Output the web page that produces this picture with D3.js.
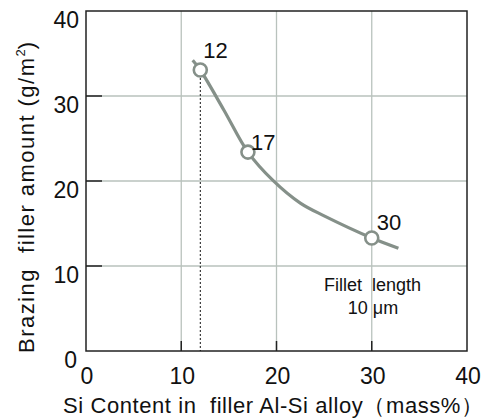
<!DOCTYPE html>
<html><head><meta charset="utf-8">
<script src="https://cdn.jsdelivr.net/npm/d3@7"></script>
<style>body{margin:0;background:#fff}svg{display:block}text{font-family:"Liberation Sans",Arial,sans-serif;fill:#111;white-space:pre}</style>
</head><body>
<svg id="c" width="490" height="420"></svg>
<script>
const xTicks = [0, 10, 20, 30, 40];
const yTicks = [0, 10, 20, 30, 40];
const curveSi = [11.2, 12, 14.5, 17, 19.6, 22.5, 25, 30, 32.8];
const curveAmount = [34.2, 33.06, 28.3, 23.4, 20.1, 17.4, 15.9, 13.3, 12.1];
const pointSi = [12, 17, 30];
const pointAmount = [33.06, 23.4, 13.3];
const pointLabels = ["12", "17", "30"];
const xTitle = "Si Content in  filler Al-Si alloy（mass%）";
const yTitleMain = "Brazing  filler amount (g/m";
const yTitleSup = "2";
const yTitleEnd = ")";
const noteLines = ["Fillet  length", "10 μm"];

const svg = d3.select("#c");
const L = 86, R = 467, T = 11, B = 351;
const x = d3.scaleLinear().domain([0, 40]).range([L, R]);
const y = d3.scaleLinear().domain([0, 40]).range([B, T]);
const inner = xTicks.filter(d => d > 0 && d < 40);
const innerY = yTicks.filter(d => d > 0 && d < 40);

// grid
svg.append("g").selectAll("line").data(inner).enter().append("line")
  .attr("x1", d => x(d)).attr("x2", d => x(d)).attr("y1", T).attr("y2", B)
  .attr("stroke", "#b9c2bd").attr("stroke-width", 1.3);
svg.append("g").selectAll("line").data(innerY).enter().append("line")
  .attr("y1", d => y(d)).attr("y2", d => y(d)).attr("x1", L).attr("x2", R)
  .attr("stroke", "#b9c2bd").attr("stroke-width", 1.3);

// inner ticks
svg.append("g").selectAll("line").data(inner).enter().append("line")
  .attr("x1", d => x(d)).attr("x2", d => x(d)).attr("y1", B - 10).attr("y2", B)
  .attr("stroke", "#222").attr("stroke-width", 1.5);
svg.append("g").selectAll("line").data(innerY).enter().append("line")
  .attr("y1", d => y(d)).attr("y2", d => y(d)).attr("x1", L).attr("x2", L + 16)
  .attr("stroke", "#222").attr("stroke-width", 1.5);

// frame
svg.append("rect").attr("x", L).attr("y", T).attr("width", R - L).attr("height", B - T)
  .attr("fill", "none").attr("stroke", "#222").attr("stroke-width", 1.5);

// tick labels
svg.append("g").selectAll("text").data(xTicks).enter().append("text")
  .attr("x", d => x(d) + 1).attr("y", 384).attr("text-anchor", "middle")
  .attr("font-size", 23).text(d => d);
svg.append("g").selectAll("text").data(yTicks).enter().append("text")
  .attr("x", d => d === 0 ? 77 : 79).attr("y", d => y(d) + 17).attr("text-anchor", "end")
  .attr("font-size", 23).text(d => d);

// dotted drop line
svg.append("line").attr("x1", x(pointSi[0])).attr("x2", x(pointSi[0]))
  .attr("y1", y(pointAmount[0])).attr("y2", B)
  .attr("stroke", "#111").attr("stroke-width", 1).attr("stroke-dasharray", "2,2");

// curve
const pts = curveSi.map((s, i) => [s, curveAmount[i]]);
svg.append("path").datum(pts)
  .attr("d", d3.line().x(d => x(d[0])).y(d => y(d[1])).curve(d3.curveCatmullRom.alpha(0.5)))
  .attr("fill", "none").attr("stroke", "#859089").attr("stroke-width", 3.2);

// points
svg.append("g").selectAll("circle").data(pointSi).enter().append("circle")
  .attr("cx", d => x(d)).attr("cy", (d, i) => y(pointAmount[i])).attr("r", 6.5)
  .attr("fill", "#fff").attr("stroke", "#859089").attr("stroke-width", 2.6);
const labOff = [[3, -12], [3, -2], [5, -8]];
svg.append("g").selectAll("text").data(pointSi).enter().append("text")
  .attr("x", (d, i) => x(d) + labOff[i][0]).attr("y", (d, i) => y(pointAmount[i]) + labOff[i][1])
  .attr("font-size", 22).text((d, i) => pointLabels[i]);

// note
svg.append("text").attr("x", 372.5).attr("y", 291).attr("text-anchor", "middle")
  .attr("font-size", 18).text(noteLines[0]);
svg.append("text").attr("x", 373).attr("y", 314).attr("text-anchor", "middle")
  .attr("font-size", 18).text(noteLines[1]);

// axis titles
svg.append("text").attr("x", 63).attr("y", 413)
  .attr("font-size", 22).attr("textLength", 420).attr("lengthAdjust", "spacing").text(xTitle);
const yt = svg.append("text").attr("transform", "translate(34,353) rotate(-90)")
  .attr("font-size", 22);
yt.append("tspan").attr("x", 0).attr("textLength", 295).attr("lengthAdjust", "spacing").text(yTitleMain);
yt.append("tspan").attr("dy", -9).attr("font-size", 13).text(yTitleSup);
yt.append("tspan").attr("dy", 9).text(yTitleEnd);
</script>
</body></html>
